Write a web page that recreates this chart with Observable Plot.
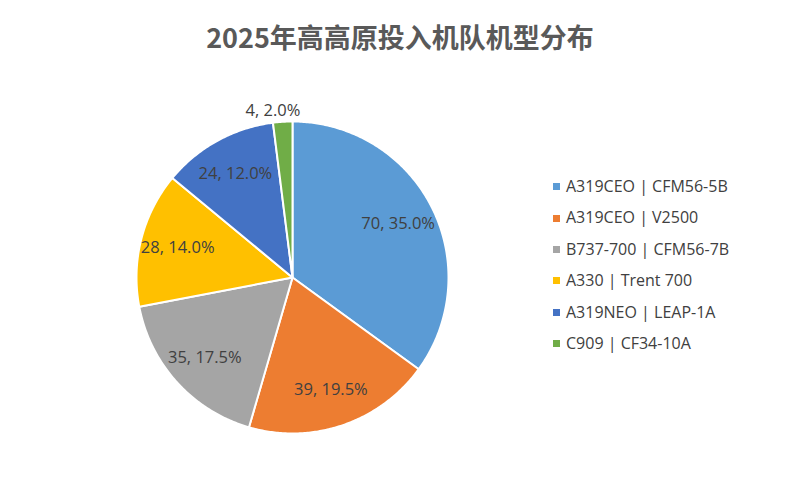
<!DOCTYPE html>
<html>
<head>
<meta charset="utf-8">
<script src="https://cdn.jsdelivr.net/npm/d3@7"></script>
<script src="https://cdn.jsdelivr.net/npm/@observablehq/plot@0.6"></script>
<style>
  html, body { margin: 0; padding: 0; background: #fff; }
  #wrap { position: relative; width: 800px; height: 487px; overflow: hidden; font-family: "Open Sans", "Noto Sans CJK SC", sans-serif; }
  #title { position: absolute; left: 0; top: 17px; width: 800px; text-align: center; font: bold 27px "Noto Sans CJK SC", sans-serif; color: #595959; line-height: 40px; }
  #legend { position: absolute; left: 553px; top: 171px; font-size: 16px; color: #404040; }
  .row { height: 31.4px; line-height: 31.4px; white-space: nowrap; display: flex; align-items: center; }
  .sw { width: 7px; height: 7px; margin-right: 6px; display: inline-block; }
  #chart { position: absolute; left: 0; top: 0; }
</style>
</head>
<body>
<div id="wrap">
  <div id="chart"></div>
  <div id="title"></div>
  <div id="legend"></div>
</div>
<script>
const titleText = "2025年高高原投入机队机型分布";
const categories = ["A319CEO | CFM56-5B", "A319CEO | V2500", "B737-700 | CFM56-7B", "A330 | Trent 700", "A319NEO | LEAP-1A", "C909 | CF34-10A"];
const counts = [70, 39, 35, 28, 24, 4];
const colors = ["#5B9BD5", "#ED7D31", "#A5A5A5", "#FFC000", "#4472C4", "#70AD47"];

const total = d3.sum(counts);
const pie = d3.pie().sort(null).value(d => d.value).startAngle(0).endAngle(2 * Math.PI);
const arcs = pie(categories.map((c, i) => ({name: c, value: counts[i]})));

// polygon points for each slice (angle clockwise from top; y up)
const pts = [];
arcs.forEach(a => {
  const n = Math.max(4, Math.ceil((a.endAngle - a.startAngle) / 0.01));
  pts.push({name: a.data.name, x: 0, y: 0});
  for (let k = 0; k <= n; k++) {
    const t = a.startAngle + (a.endAngle - a.startAngle) * k / n;
    pts.push({name: a.data.name, x: Math.sin(t), y: Math.cos(t)});
  }
  pts.push({name: a.data.name, x: 0, y: 0});
});

const labels = arcs.map(a => {
  const mid = (a.startAngle + a.endAngle) / 2;
  const share = a.data.value / total;
  const outside = share < 0.05;
  const rr = outside ? 1.07 : 0.76;
  return {
    name: a.data.name,
    x: Math.sin(mid) * rr,
    y: Math.cos(mid) * rr,
    outside,
    text: `${a.data.value}, ${(share * 100).toFixed(1)}%`
  };
});

const chart = Plot.plot({
  width: 800,
  height: 487,
  margin: 0,
  x: {domain: [-1, 1], range: [136, 448], axis: null},
  y: {domain: [-1, 1], range: [433, 121], axis: null},
  color: {domain: categories, range: colors},
  style: {fontFamily: "'Open Sans', 'Noto Sans CJK SC', sans-serif", background: "transparent"},
  marks: [
    Plot.line(pts, {x: "x", y: "y", z: "name", fill: "name", stroke: "#fff", strokeWidth: 2, strokeLinejoin: "round", curve: "linear"}),
    Plot.text(labels.filter(d => !d.outside), {x: "x", y: "y", text: "text", fill: "#404040", fontSize: 16.5}),
    Plot.text(labels.filter(d => d.outside), {x: "x", y: "y", text: "text", fill: "#404040", fontSize: 16.5, dx: -9})
  ]
});
document.getElementById("chart").appendChild(chart);
document.getElementById("title").textContent = titleText;

const legend = d3.select("#legend");
categories.forEach((c, i) => {
  const row = legend.append("div").attr("class", "row");
  row.append("span").attr("class", "sw").style("background", colors[i]);
  row.append("span").text(c);
});
</script>
</body>
</html>
